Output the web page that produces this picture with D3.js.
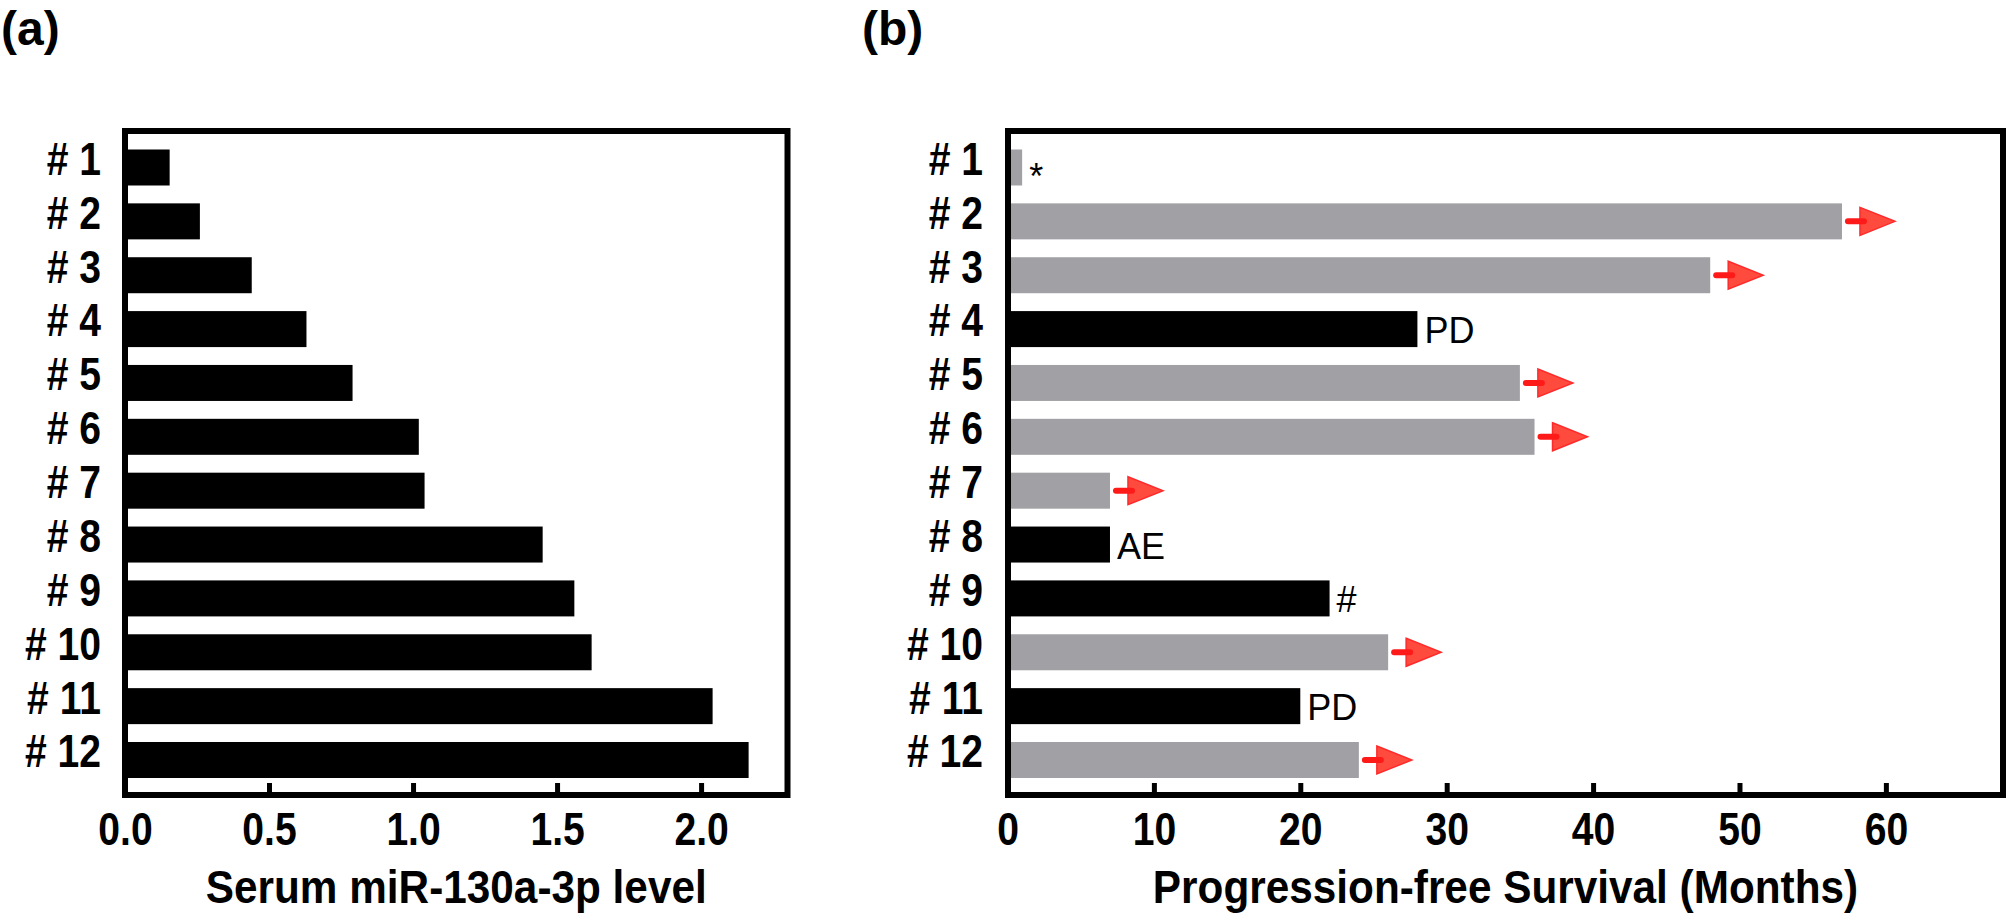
<!DOCTYPE html>
<html lang="en">
<head>
  <meta charset="UTF-8" />
  <title>Serum miR-130a-3p level and PFS</title>
  <style>
    body { margin: 0; background: #fff; }
    svg { display: block; font-family: 'Liberation Sans', Arial, Helvetica, sans-serif; }
    .axis text { font-size: 46px; font-weight: bold; fill: #000; }
    .axis .tick line { stroke: #000; stroke-width: 5; }
    .axis-title { font-size: 46px; font-weight: bold; fill: #000; }
    .panel-tag { font-size: 48px; font-weight: bold; fill: #000; }
    .note { font-size: 36px; fill: #000; }
  </style>
</head>
<body>
  <svg id="chart" width="2008" height="921"></svg>

  <script src="https://d3js.org/d3.v7.min.js"></script>
  <script>
    // data
    const patients = ["1", "2", "3", "4", "5", "6", "7", "8", "9", "10", "11", "12"];
    const mirLevel = [0.155, 0.26, 0.44, 0.63, 0.79, 1.02, 1.04, 1.45, 1.56, 1.62, 2.04, 2.165];
    const pfsMonths = [1, 57, 48, 28, 35, 36, 7, 7, 22, 26, 20, 24];
    const pfsEvent = [false, false, false, true, false, false, false, true, true, false, true, false];
    const stillOngoing = [false, true, true, false, true, true, true, false, false, true, false, true];
    const pfsNotes = ["*", "", "", "PD", "", "", "", "AE", "#", "", "PD", ""];
    const ticksA = [0, 0.5, 1.0, 1.5, 2.0];
    const ticksB = [0, 10, 20, 30, 40, 50, 60];

    const svg = d3.select("#chart");
    const barH = 36;
    const frameTop = 131, frameBottom = 795;
    const squeeze = 0.85;   // the original lettering is a condensed bold

    // shared row positions
    const y = d3.scalePoint().domain(patients).range([167.5, 760]);

    // scales for the two panels
    const xA = d3.scaleLinear().domain([0, 2.3]).range([125, 787.5]);
    const xB = d3.scaleLinear().domain([0, 68]).range([1007.5, 2003]);

    const rowsA = patients.map((p, i) => ({ id: p, v: mirLevel[i] }));
    const rowsB = patients.map((p, i) => ({
      id: p, v: pfsMonths[i], event: pfsEvent[i], arrow: stillOngoing[i], note: pfsNotes[i]
    }));

    // ---- panel (a) ----
    svg.append("g").selectAll("rect")
      .data(rowsA)
      .join("rect")
      .attr("x", xA(0))
      .attr("y", d => y(d.id) - barH / 2)
      .attr("width", d => xA(d.v) - xA(0))
      .attr("height", barH)
      .attr("fill", "#000");

    // ---- panel (b) ----
    svg.append("g").selectAll("rect")
      .data(rowsB)
      .join("rect")
      .attr("x", xB(0))
      .attr("y", d => y(d.id) - barH / 2)
      .attr("width", d => xB(d.v) - xB(0))
      .attr("height", barH)
      .attr("fill", d => d.event ? "#000" : "#a1a0a5");

    // red "still progression-free" arrows
    const arrows = svg.append("g").selectAll("g")
      .data(rowsB.filter(d => d.arrow))
      .join("g")
      .attr("transform", d => `translate(${xB(d.v)},${y(d.id)})`);
    arrows.append("path")
      .attr("d", "M18,-14 L53,0 L18,14 Z")
      .attr("fill", "#ff4b3e")
      .attr("stroke", "#ff2b2b")
      .attr("stroke-width", 1.5);
    arrows.append("line")
      .attr("x1", 6).attr("x2", 22)
      .attr("y1", 0).attr("y2", 0)
      .attr("stroke", "#ff1a1a")
      .attr("stroke-width", 6)
      .attr("stroke-linecap", "round");

    // text notes next to bars
    svg.append("g").selectAll("text")
      .data(rowsB.filter(d => d.note))
      .join("text")
      .attr("class", "note")
      .attr("x", d => xB(d.v) + 7)
      .attr("y", d => y(d.id) + (d.note === "*" ? 21 : 14))
      .text(d => d.note);

    // frames
    [[125, 787.5], [1008, 2003]].forEach(([l, r]) => {
      svg.append("rect")
        .attr("x", l).attr("y", frameTop)
        .attr("width", r - l).attr("height", frameBottom - frameTop)
        .attr("fill", "none")
        .attr("stroke", "#000")
        .attr("stroke-width", 6);
    });

    // bottom axes, ticks pointing inward
    function bottomAxis(scale, ticks, fmt) {
      const g = svg.append("g")
        .attr("class", "axis")
        .attr("transform", `translate(0,${frameBottom})`)
        .call(d3.axisBottom(scale).tickValues(ticks).tickFormat(fmt)
          .tickSizeInner(-12).tickSizeOuter(0).tickPadding(17));
      g.select(".domain").remove();
      g.selectAll("text").attr("fill", "#000").attr("transform", `scale(${squeeze},1)`);
    }
    bottomAxis(xA, ticksA, d3.format(".1f"));
    bottomAxis(xB, ticksB, d3.format("d"));

    // category labels
    function leftAxis(x0, pad) {
      const g = svg.append("g")
        .attr("class", "axis")
        .attr("transform", `translate(${x0},0)`)
        .call(d3.axisLeft(y).tickSize(0).tickPadding(pad).tickFormat(d => "# " + d));
      g.select(".domain").remove();
      g.selectAll("text")
        .attr("x", -pad / squeeze)
        .attr("dy", "0.15em")
        .attr("fill", "#000")
        .attr("transform", `scale(${squeeze},1)`);
    }
    leftAxis(125, 24);
    leftAxis(1008, 25);

    // axis titles
    function axisTitle(cx, label) {
      svg.append("text")
        .attr("class", "axis-title")
        .attr("transform", `translate(${cx},903) scale(0.92,1)`)
        .attr("text-anchor", "middle")
        .text(label);
    }
    axisTitle((125 + 787.5) / 2, "Serum miR-130a-3p level");
    axisTitle((1008 + 2003) / 2, "Progression-free Survival (Months)");

    // panel tags
    svg.append("text").attr("class", "panel-tag").attr("x", 1).attr("y", 45).text("(a)");
    svg.append("text").attr("class", "panel-tag").attr("x", 862).attr("y", 45).text("(b)");
  </script>
</body>
</html>
